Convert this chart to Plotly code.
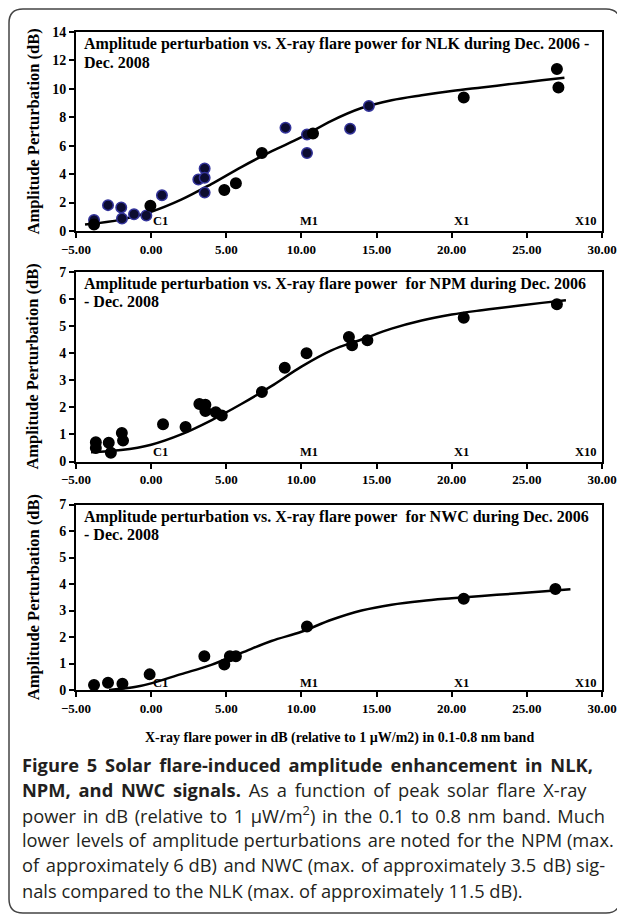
import plotly.graph_objects as go

OFF = 8  # page body margin offset of the figure div
W, H = 625, 923 - 2 * OFF
# plot area in screen px
L, R, T, B = 76, 602, 32, 690

def px_x(px):
    return (px - L) / (R - L)

def px_y(py):
    return (B - py) / (B - T)

# ---------------- data ----------------
# NLK
nlk_blue_x = [-3.8, -2.87, -1.99, -1.94, -1.14, -0.32, 0.72, 3.14, 3.56, 3.56, 3.56, 8.94, 10.37, 10.37, 13.24, 14.49]
nlk_blue_y = [0.78, 1.82, 1.66, 0.88, 1.18, 1.09, 2.51, 3.62, 4.40, 3.74, 2.70, 7.27, 6.79, 5.49, 7.20, 8.80]
nlk_black_x = [-3.8, -0.05, 4.87, 5.64, 7.37, 10.77, 20.8, 27.0, 27.1]
nlk_black_y = [0.45, 1.78, 2.89, 3.36, 5.49, 6.86, 9.4, 11.4, 10.1]
nlk_fit_x = [-4.4, -2, 0, 2, 4, 6, 8, 10, 12, 14, 16, 18, 20, 22, 24, 26, 27.5]
nlk_fit_y = [0.45, 0.8, 1.35, 2.2, 3.3, 4.5, 5.6, 6.6, 7.75, 8.65, 9.2, 9.55, 9.85, 10.1, 10.35, 10.6, 10.78]

# NPM
npm_x = [-3.68, -3.68, -2.82, -2.68, -1.95, -1.87, 0.79, 2.29, 3.21, 3.61, 3.61, 4.3, 4.7, 7.37, 8.89, 10.34, 13.16, 13.37, 14.39, 20.8, 27.0]
npm_y = [0.71, 0.50, 0.69, 0.32, 1.05, 0.77, 1.37, 1.27, 2.12, 2.09, 1.86, 1.82, 1.70, 2.56, 3.46, 3.99, 4.59, 4.29, 4.47, 5.3, 5.8]
npm_fit_x = [-4, -2, 0, 2, 4, 6, 8, 10, 12, 14, 16, 18, 20, 22, 24, 26, 27.6]
npm_fit_y = [0.34, 0.42, 0.62, 1.0, 1.52, 2.12, 2.78, 3.5, 4.1, 4.5, 4.9, 5.2, 5.42, 5.58, 5.72, 5.85, 5.95]

# NWC
nwc_x = [-3.8, -2.87, -1.91, -0.1, 3.54, 4.87, 5.24, 5.64, 10.37, 20.8, 26.9]
nwc_y = [0.19, 0.27, 0.24, 0.59, 1.27, 0.96, 1.27, 1.27, 2.4, 3.44, 3.81]
nwc_fit_x = [-2.8, -1, 0, 2, 4, 6, 8, 10, 12, 14, 16, 18, 20, 22, 24, 26, 27.9]
nwc_fit_y = [0.0, 0.12, 0.25, 0.6, 0.95, 1.4, 1.85, 2.2, 2.65, 3.0, 3.22, 3.36, 3.46, 3.55, 3.63, 3.72, 3.8]

x_range = [-5, 30]
y_ranges = [[0, 14], [0, 7], [0, 7]]
y_dticks = [2, 1, 1]
class_labels = ["C1", "M1", "X1", "X10"]
class_pos = [0, 9.8, 20, 29.8]

panel_titles = [
    ["Amplitude perturbation vs. X-ray flare power for NLK during Dec. 2006 -", "Dec. 2008"],
    ["Amplitude perturbation vs. X-ray flare power&nbsp; for NPM during Dec. 2006", "- Dec. 2008"],
    ["Amplitude perturbation vs. X-ray flare power&nbsp; for NWC during Dec. 2006", "- Dec. 2008"],
]
y_title = "Amplitude Perturbation (dB)"
x_title = "X-ray flare power in dB (relative to 1 µW/m2) in 0.1-0.8 nm band"

caption_lines = [
    "<b>Figure 5 Solar flare-induced amplitude enhancement in NLK,</b>",
    "<b>NPM, and NWC signals.</b> As a function of peak solar flare X-ray",
    "power in dB (relative to 1 µW/m<sup>2</sup>) in the 0.1 to 0.8 nm band. Much",
    "lower levels of amplitude perturbations are noted for the NPM (max.",
    "of approximately 6 dB) and NWC (max. of approximately 3.5 dB) sig-",
    "nals compared to the NLK (max. of approximately 11.5 dB).",
]
# extra inter-word spacing (spacer, every n-th gap) to imitate the justified caption
caption_gaps = [("\u2009", 1), ("\u2009", 1), ("\u200a", 1), ("\u200a", 2), ("\u200a", 3), ("", 1)]

# ---------------- layout geometry ----------------
panels_px = [(32, 231), (271.7, 461.5), (504.5, 690)]  # top, bottom (screen px)
SERIF = "Liberation Serif"

fig = go.Figure()

axes_names = [("x", "y"), ("x2", "y2"), ("x3", "y3")]
series = [
    [(nlk_blue_x, nlk_blue_y, "#0c0c30", "#33339a"), (nlk_black_x, nlk_black_y, "black", "black")],
    [(npm_x, npm_y, "black", "black")],
    [(nwc_x, nwc_y, "black", "black")],
]
fits = [(nlk_fit_x, nlk_fit_y), (npm_fit_x, npm_fit_y), (nwc_fit_x, nwc_fit_y)]

for i, (xa, ya) in enumerate(axes_names):
    fx, fy = fits[i]
    fig.add_trace(go.Scatter(x=fx, y=fy, mode="lines", line=dict(color="black", width=2.5, shape="spline"),
                             xaxis=xa, yaxis=ya, showlegend=False, hoverinfo="skip"))
    for sx, sy, fill, edge in series[i]:
        fig.add_trace(go.Scatter(x=sx, y=sy, mode="markers",
                                 marker=dict(size=10.5, color=fill, line=dict(color=edge, width=1.5)),
                                 xaxis=xa, yaxis=ya, showlegend=False))

layout = dict(
    width=W, height=H,
    margin=dict(l=L - OFF, r=(W + OFF) - R, t=T - OFF, b=(H + OFF) - B, autoexpand=False),
    paper_bgcolor="white", plot_bgcolor="white",
    font=dict(family=SERIF, size=13, color="black"),
)

annotations = []
for i, (top, bot) in enumerate(panels_px):
    xk = "xaxis" if i == 0 else f"xaxis{i+1}"
    yk = "yaxis" if i == 0 else f"yaxis{i+1}"
    xr = "x" if i == 0 else f"x{i+1}"
    yr = "y" if i == 0 else f"y{i+1}"
    layout[xk] = dict(
        domain=[0, 1], range=x_range, dtick=5, tick0=-5, tickformat=".2f",
        ticks="outside", ticklen=5, tickwidth=1.5, tickcolor="black",
        showline=True, linecolor="black", linewidth=2, mirror=True,
        showgrid=False, zeroline=False, anchor=yr, ticklabeloverflow="allow",
        tickfont=dict(family=SERIF, size=13, color="black", weight="bold"),
    )
    layout[yk] = dict(
        domain=[px_y(bot), px_y(top)], range=y_ranges[i], dtick=y_dticks[i],
        ticks="outside", ticklen=5, tickwidth=1.5, tickcolor="black",
        showline=True, linecolor="black", linewidth=2, mirror=True,
        showgrid=False, zeroline=False, anchor=xr,
        tickfont=dict(family=SERIF, size=14, color="black", weight="bold"),
    )
    # panel inner title (two lines)
    for k, ln in enumerate(panel_titles[i]):
        annotations.append(dict(
            text=ln, xref="paper", yref="paper", x=px_x(82), y=px_y(top + 12 + 18 * k),
            xanchor="left", yanchor="middle", showarrow=False, align="left",
            font=dict(family=SERIF, size=16, color="black", weight="bold"),
        ))
    # y-axis title
    annotations.append(dict(
        text=y_title, xref="paper", yref="paper", x=px_x(33), y=px_y((top + bot) / 2),
        xanchor="center", yanchor="middle", textangle=-90, showarrow=False,
        font=dict(family=SERIF, size=16.5, color="black", weight="bold"),
    ))
    # flare class labels
    for lab, pos in zip(class_labels, class_pos):
        annotations.append(dict(
            text=lab, xref=xr, yref=f"{yr} domain", x=pos, y=0,
            xanchor="right" if lab == "X10" else "left", yanchor="bottom",
            yshift=(1 if i < 2 else -2), showarrow=False,
            font=dict(family=SERIF, size=12.5, color="black", weight="bold"),
        ))

# x-axis title
annotations.append(dict(
    text=x_title, xref="paper", yref="paper", x=0.5, y=px_y(738),
    xanchor="center", yanchor="middle", showarrow=False,
    font=dict(family=SERIF, size=14, color="black", weight="bold"),
))

# caption
for k, line in enumerate(caption_lines):
    gap, every = caption_gaps[k]
    if gap:
        parts = line.split(" ")
        text = parts[0]
        for j, p in enumerate(parts[1:]):
            text += (" " + gap if j % every == 0 else " ") + p
    else:
        text = line
    annotations.append(dict(
        text=text, xref="paper", yref="paper", x=px_x(20), y=px_y(764 + 25.2 * k),
        xanchor="left", yanchor="middle", showarrow=False, align="left",
        font=dict(family="Open Sans", size=18.3, color="#231f20"),
    ))

layout["annotations"] = annotations

# rounded outer frame
x0, x1 = px_x(9), px_x(620)
y0, y1 = px_y(9), px_y(913)
rx = 14 / (R - L)
ry = 14 / (B - T)
path = (f"M {x0+rx},{y0} L {x1-rx},{y0} Q {x1},{y0} {x1},{y0-ry} "
        f"L {x1},{y1+ry} Q {x1},{y1} {x1-rx},{y1} L {x0+rx},{y1} Q {x0},{y1} {x0},{y1+ry} "
        f"L {x0},{y0-ry} Q {x0},{y0} {x0+rx},{y0} Z")
layout["shapes"] = [dict(type="path", path=path, xref="paper", yref="paper",
                         line=dict(color="#444444", width=1.5), layer="below")]

fig.update_layout(**layout)
fig.write_html("out.html")
